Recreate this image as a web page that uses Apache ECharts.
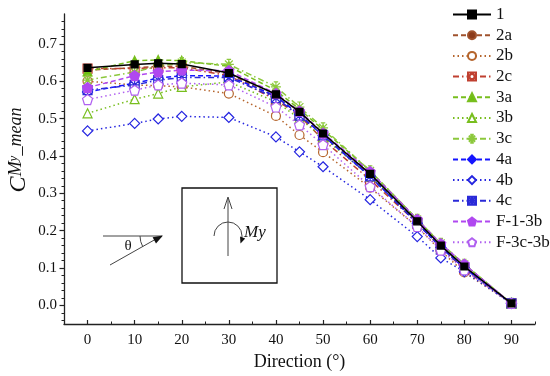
<!DOCTYPE html>
<html><head><meta charset="utf-8">
<script src="https://cdn.jsdelivr.net/npm/echarts@6/dist/echarts.min.js"></script>
<style>html,body{margin:0;padding:0;background:#fff}#c{width:550px;height:376px}</style>
</head><body><div id="c"></div>
<script>
// ---- data ----
const directions = [0, 10, 15, 20, 30, 40, 45, 50, 60, 70, 75, 80, 90];
const names = ['1', '2a', '2b', '2c', '3a', '3b', '3c', '4a', '4b', '4c', 'F-1-3b', 'F-3c-3b'];
const v1     = [0.636, 0.645, 0.648, 0.646, 0.622, 0.565, 0.518, 0.460, 0.352, 0.225, 0.160, 0.104, 0.005];
const v2a    = [0.630, 0.636, 0.640, 0.640, 0.620, 0.558, 0.512, 0.455, 0.348, 0.222, 0.156, 0.100, 0.005];
const v2b    = [0.600, 0.590, 0.588, 0.585, 0.567, 0.507, 0.456, 0.410, 0.315, 0.210, 0.146, 0.088, 0.005];
const v2c    = [0.634, 0.634, 0.636, 0.636, 0.615, 0.550, 0.508, 0.443, 0.336, 0.220, 0.155, 0.096, 0.005];
const v3a    = [0.626, 0.655, 0.657, 0.655, 0.640, 0.575, 0.525, 0.470, 0.360, 0.230, 0.165, 0.110, 0.005];
const v3b    = [0.514, 0.552, 0.567, 0.585, 0.598, 0.545, 0.500, 0.450, 0.345, 0.225, 0.160, 0.104, 0.005];
const v3c    = [0.603, 0.625, 0.640, 0.650, 0.645, 0.585, 0.531, 0.475, 0.360, 0.230, 0.166, 0.110, 0.005];
const v4a    = [0.571, 0.595, 0.608, 0.615, 0.614, 0.560, 0.510, 0.455, 0.345, 0.220, 0.155, 0.100, 0.005];
const v4b    = [0.467, 0.487, 0.499, 0.506, 0.503, 0.451, 0.411, 0.371, 0.283, 0.184, 0.127, 0.090, 0.005];
const v4c    = [0.576, 0.590, 0.603, 0.610, 0.610, 0.555, 0.508, 0.455, 0.345, 0.220, 0.155, 0.100, 0.005];
const vF13b  = [0.583, 0.615, 0.625, 0.630, 0.628, 0.567, 0.520, 0.461, 0.358, 0.230, 0.165, 0.110, 0.005];
const vF3c3b = [0.551, 0.576, 0.590, 0.595, 0.590, 0.531, 0.483, 0.430, 0.318, 0.211, 0.148, 0.095, 0.005];
const xTicks = [0, 10, 20, 30, 40, 50, 60, 70, 80, 90];
const xMinorTicks = [5, 15, 25, 35, 45, 55, 65, 75, 85, 95];
const yTicks = [0, 0.1, 0.2, 0.3, 0.4, 0.5, 0.6, 0.7];
const yMinorTicks = [-0.04, -0.02, 0.02, 0.04, 0.06, 0.08, 0.12, 0.14, 0.16, 0.18, 0.22, 0.24, 0.26, 0.28,
  0.32, 0.34, 0.36, 0.38, 0.42, 0.44, 0.46, 0.48, 0.52, 0.54, 0.56, 0.58, 0.62, 0.64, 0.66, 0.68, 0.72, 0.74, 0.76];

// ---- styles ----
const FONT = 'Liberation Serif';
const DASH = [5, 3], DOT = [1.5, 3], DASHDOT = [6, 3, 1.5, 3];
const PENTA = 'path://M0,-10 L9.51,-3.09 L5.88,8.09 L-5.88,8.09 L-9.51,-3.09 Z';
const SQ_X = 'path://M-8,-8 L8,-8 L8,8 L-8,8 Z M-8,-8 L8,8 M8,-8 L-8,8 M0,-8 L0,8 M-8,0 L8,0';
const SQ_O = 'path://M-8,-8 L8,-8 L8,8 L-8,8 Z M5,0 A5,5 0 1,1 -5,0 A5,5 0 1,1 5,0 Z';
const STAR = 'path://M0,-9 L0,9 M-9,0 L9,0 M-7,-7 L7,7 M7,-7 L-7,7 M-4,-9 L4,-9 M-4,9 L4,9';

function pairs(vals) { return directions.map((d, i) => [d, vals[i]]); }

function ser(name, vals, color, type, symbol, size, fill, z) {
  return {
    name, type: 'line', data: pairs(vals), symbol, symbolSize: size, z: z || 2,
    lineStyle: { color, width: 1.5, type },
    itemStyle: { color: fill, borderColor: color, borderWidth: 1.2 },
    emphasis: { disabled: true }, animation: false
  };
}

const series = [
  ser('2a', v2a, '#a0522d', DASH, 'circle', 8, '#8b3a1a'),
  ser('2b', v2b, '#b5652d', DOT, 'circle', 9, '#ffffff'),
  ser('2c', v2c, '#c04030', DASHDOT, SQ_O, 9, '#ffffff'),
  ser('3a', v3a, '#78be1e', DASH, 'triangle', 9, '#6cc010'),
  ser('3b', v3b, '#78be1e', DOT, 'triangle', 9, '#ffffff'),
  ser('3c', v3c, '#8cc83c', DASHDOT, STAR, 10, '#ffffff'),
  ser('4a', v4a, '#1515ff', DASH, 'diamond', 10, '#1515ff'),
  ser('4b', v4b, '#2525e0', DOT, 'diamond', 10, '#ffffff'),
  ser('4c', v4c, '#2a2ad8', DASHDOT, SQ_X, 9, '#ffffff'),
  ser('F-1-3b', vF13b, '#b048f0', DASH, PENTA, 10, '#b048f0'),
  ser('F-3c-3b', vF3c3b, '#b060f0', DOT, PENTA, 10, '#ffffff'),
  ser('1', v1, '#000000', 'solid', 'rect', 7, '#000000', 5)
];

const gray = '#444';
const option = {
  backgroundColor: '#fff',
  animation: false,
  grid: { left: 64, right: 15, top: 14, bottom: 52 },
  legend: {
    data: names, orient: 'vertical', left: 452, top: 6, padding: 0,
    itemWidth: 38, itemHeight: 10, itemGap: 3.7,
    textStyle: { fontFamily: FONT, fontSize: 17, color: '#111' },
    inactiveColor: '#ccc', selectedMode: false
  },
  xAxis: [{
    type: 'value', min: -5, max: 95, position: 'bottom',
    axisLine: { onZero: false, lineStyle: { color: '#222', width: 1.3 } },
    axisTick: { inside: true, length: 4, customValues: xTicks, lineStyle: { color: '#222', width: 1.2 } },
    axisLabel: { customValues: xTicks, fontFamily: FONT, fontSize: 15, color: '#111', margin: 9 },
    splitLine: { show: false },
    name: 'Direction (°)', nameLocation: 'middle', nameGap: 27,
    nameTextStyle: { fontFamily: FONT, fontSize: 18, color: '#111' }
  }, {
    type: 'value', min: -5, max: 95, position: 'bottom', offset: 0,
    axisLine: { show: false, onZero: false },
    axisTick: { inside: true, length: 2.5, customValues: xMinorTicks, lineStyle: { color: '#222', width: 1 } },
    axisLabel: { show: false }, splitLine: { show: false }
  }],
  yAxis: [{
    type: 'value', min: -0.05, max: 0.78, position: 'left',
    axisLine: { show: true, onZero: false, lineStyle: { color: '#222', width: 1.3 } },
    axisTick: { show: true, inside: false, length: 4.5, customValues: yTicks, lineStyle: { color: '#222', width: 1.2 } },
    axisLabel: { customValues: yTicks, formatter: v => v.toFixed(1), fontFamily: FONT, fontSize: 15, color: '#111', margin: 7 },
    splitLine: { show: false }
  }, {
    type: 'value', min: -0.05, max: 0.78, position: 'left', offset: 0,
    axisLine: { show: false, onZero: false },
    axisTick: { show: true, inside: false, length: 2.5, customValues: yMinorTicks, lineStyle: { color: '#222', width: 1 } },
    axisLabel: { show: false }, splitLine: { show: false }
  }],
  series,
  graphic: [
    { type: 'text', x: 29, y: 150, rotation: Math.PI / 2, silent: true,
      style: { text: '{c|C}{m|M}{s|y}{e|_mean}', align: 'center', verticalAlign: 'middle',
        rich: {
          c: { fontFamily: FONT, fontStyle: 'italic', fontSize: 24, lineHeight: 24, verticalAlign: 'top', fill: '#111' },
          m: { fontFamily: FONT, fontStyle: 'italic', fontSize: 18, lineHeight: 36, verticalAlign: 'top', fill: '#111' },
          s: { fontFamily: FONT, fontStyle: 'italic', fontSize: 13, lineHeight: 44, verticalAlign: 'top', fill: '#111' },
          e: { fontFamily: FONT, fontStyle: 'italic', fontSize: 18, lineHeight: 36, verticalAlign: 'top', fill: '#111' }
        } } },
    { type: 'line', silent: true, shape: { x1: 103, y1: 236, x2: 162, y2: 236 }, style: { stroke: gray, lineWidth: 1 } },
    { type: 'line', silent: true, shape: { x1: 110, y1: 265, x2: 156, y2: 239 }, style: { stroke: gray, lineWidth: 1 } },
    { type: 'polygon', silent: true, shape: { points: [[163, 235.5], [152.6, 237.3], [156.0, 243.5]] }, style: { fill: '#111' } },
    { type: 'arc', silent: true, shape: { cx: 162, cy: 236, r: 22, startAngle: 2.634, endAngle: Math.PI, clockwise: true }, style: { stroke: gray, fill: 'none', lineWidth: 1 } },
    { type: 'text', silent: true, x: 128, y: 246, style: { text: 'θ', fontFamily: FONT, fontSize: 15, fill: '#111', align: 'center', verticalAlign: 'middle' } },
    { type: 'rect', silent: true, shape: { x: 182, y: 188, width: 95, height: 95 }, style: { stroke: '#111', fill: 'none', lineWidth: 1.3 } },
    { type: 'line', silent: true, shape: { x1: 228, y1: 256, x2: 228, y2: 198 }, style: { stroke: gray, lineWidth: 1 } },
    { type: 'polyline', silent: true, shape: { points: [[224, 209], [228, 197], [232, 209]] }, style: { stroke: gray, lineWidth: 1, fill: 'none' } },
    { type: 'arc', silent: true, shape: { cx: 228, cy: 236, r: 14, startAngle: Math.PI, endAngle: 2 * Math.PI + 0.3, clockwise: true }, style: { stroke: gray, fill: 'none', lineWidth: 1 } },
    { type: 'polygon', silent: true, shape: { points: [[240.5, 243.5], [245.2, 238.4], [240.0, 236.4]] }, style: { fill: '#111' } },
    { type: 'text', silent: true, x: 244, y: 233, style: { text: 'My', fontFamily: FONT, fontStyle: 'italic', fontSize: 17, fill: '#111', align: 'left', verticalAlign: 'middle' } }
  ]
};

const chart = echarts.init(document.getElementById('c'), null, { renderer: 'canvas' });
chart.setOption(option);
</script>
</body></html>
